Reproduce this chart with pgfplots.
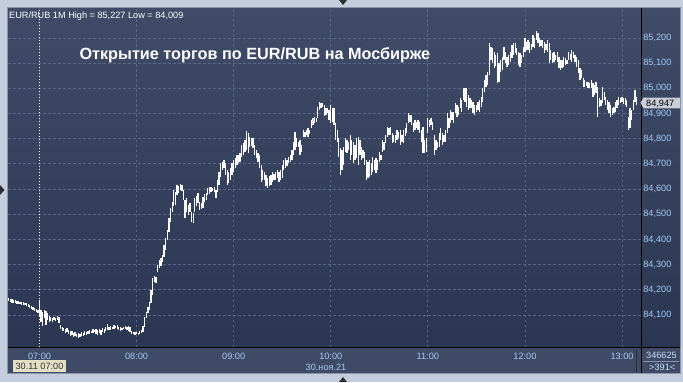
\documentclass[border=0pt]{standalone}
\usepackage{fontspec}
\setmainfont{Liberation Sans}
\usepackage{pgfplots}
\usepackage{pgfplotstable}
\pgfplotsset{compat=1.18}
\usetikzlibrary{backgrounds,calc}
\definecolor{framecol}{RGB}{196,205,219}
\definecolor{bordercol}{RGB}{140,150,168}
\definecolor{bgtop}{RGB}{63,75,103}
\definecolor{bgbot}{RGB}{43,54,83}
\definecolor{bandcol}{RGB}{62,74,102}
\definecolor{gridcol}{RGB}{88,103,135}
\definecolor{labcol}{RGB}{165,203,245}
\definecolor{beige}{RGB}{226,223,197}
\definecolor{pricebox}{RGB}{200,205,214}
\definecolor{tri}{RGB}{45,45,50}
\pgfplotstableread{
t lo hi
-19 84.156 84.168
-18 84.152 84.164
-17 84.148 84.164
-16 84.148 84.160
-15 84.148 84.160
-14 84.144 84.156
-13 84.144 84.156
-12 84.144 84.152
-11 84.140 84.152
-10 84.140 84.152
-9 84.140 84.148
-8 84.136 84.148
-7 84.132 84.144
-6 84.128 84.140
-5 84.124 84.136
-4 84.120 84.132
-3 84.116 84.128
-2 84.112 84.124
-1 84.108 84.120
0 84.096 84.160
1 84.072 84.120
2 84.056 84.112
3 84.088 84.120
4 84.060 84.116
5 84.080 84.108
6 84.072 84.096
7 84.076 84.092
8 84.072 84.088
9 84.080 84.092
10 84.076 84.088
11 84.080 84.096
12 84.068 84.092
13 84.044 84.060
14 84.036 84.052
15 84.036 84.048
16 84.029 84.044
17 84.032 84.048
18 84.025 84.040
19 84.017 84.036
20 84.021 84.036
21 84.013 84.029
22 84.017 84.032
23 84.013 84.025
24 84.009 84.029
25 84.013 84.025
26 84.017 84.032
27 84.017 84.029
28 84.021 84.036
29 84.021 84.032
30 84.025 84.036
31 84.025 84.040
32 84.029 84.036
33 84.029 84.044
34 84.032 84.040
35 84.025 84.044
36 84.021 84.040
37 84.029 84.044
38 84.021 84.040
39 84.032 84.048
40 84.029 84.044
41 84.036 84.052
42 84.040 84.064
43 84.040 84.052
44 84.040 84.056
45 84.044 84.052
46 84.044 84.060
47 84.048 84.056
48 84.044 84.060
49 84.040 84.052
50 84.036 84.052
51 84.040 84.048
52 84.044 84.052
53 84.044 84.056
54 84.040 84.052
55 84.036 84.056
56 84.032 84.052
57 84.025 84.036
58 84.025 84.032
59 84.021 84.032
60 84.025 84.032
61 84.021 84.029
62 84.025 84.036
63 84.029 84.040
64 84.032 84.056
65 84.052 84.092
66 84.088 84.112
67 84.108 84.132
68 84.120 84.152
69 84.148 84.199
70 84.179 84.247
71 84.231 84.255
72 84.227 84.251
73 84.271 84.299
74 84.287 84.318
75 84.295 84.326
76 84.310 84.338
77 84.330 84.378
78 84.358 84.406
79 84.398 84.438
80 84.430 84.485
81 84.469 84.525
82 84.509 84.549
83 84.533 84.596
84 84.537 84.588
85 84.577 84.616
86 84.585 84.612
87 84.596 84.620
88 84.592 84.616
89 84.557 84.596
90 84.485 84.557
91 84.509 84.565
92 84.497 84.537
93 84.509 84.545
94 84.469 84.509
95 84.465 84.505
96 84.509 84.565
97 84.533 84.573
98 84.545 84.585
99 84.517 84.549
100 84.521 84.545
101 84.525 84.569
102 84.549 84.581
103 84.557 84.585
104 84.577 84.604
105 84.581 84.608
106 84.588 84.608
107 84.592 84.604
108 84.588 84.608
109 84.565 84.596
110 84.588 84.636
111 84.616 84.668
112 84.648 84.704
113 84.676 84.708
114 84.684 84.716
115 84.656 84.704
116 84.616 84.676
117 84.624 84.668
118 84.636 84.684
119 84.656 84.704
120 84.668 84.716
121 84.684 84.723
122 84.696 84.735
123 84.704 84.735
124 84.708 84.743
125 84.727 84.775
126 84.735 84.783
127 84.747 84.795
128 84.755 84.831
129 84.743 84.823
130 84.767 84.807
131 84.771 84.803
132 84.763 84.803
133 84.735 84.775
134 84.723 84.755
135 84.708 84.743
136 84.684 84.735
137 84.628 84.696
138 84.636 84.676
139 84.636 84.668
140 84.612 84.656
141 84.604 84.644
142 84.612 84.652
143 84.616 84.656
144 84.628 84.668
145 84.636 84.660
146 84.636 84.668
147 84.644 84.676
148 84.628 84.668
149 84.636 84.676
150 84.644 84.696
151 84.676 84.716
152 84.684 84.723
153 84.692 84.716
154 84.704 84.727
155 84.708 84.735
156 84.716 84.755
157 84.735 84.787
158 84.755 84.827
159 84.767 84.803
160 84.767 84.787
161 84.735 84.795
162 84.747 84.775
163 84.807 84.835
164 84.807 84.827
165 84.815 84.835
166 84.807 84.843
167 84.819 84.835
168 84.843 84.874
169 84.855 84.882
170 84.862 84.886
171 84.866 84.882
172 84.882 84.926
173 84.914 84.946
174 84.922 84.942
175 84.926 84.942
176 84.890 84.934
177 84.894 84.922
178 84.902 84.922
179 84.874 84.914
180 84.862 84.934
181 84.866 84.922
182 84.855 84.922
183 84.795 84.862
184 84.787 84.835
185 84.727 84.803
186 84.656 84.763
187 84.676 84.755
188 84.696 84.767
189 84.747 84.803
190 84.743 84.795
191 84.755 84.787
192 84.716 84.815
193 84.735 84.795
194 84.704 84.787
195 84.716 84.775
196 84.723 84.803
197 84.696 84.807
198 84.735 84.795
199 84.716 84.767
200 84.723 84.755
201 84.696 84.747
202 84.636 84.716
203 84.644 84.708
204 84.648 84.716
205 84.656 84.704
206 84.668 84.727
207 84.676 84.716
208 84.664 84.723
209 84.676 84.716
210 84.708 84.747
211 84.716 84.735
212 84.747 84.795
213 84.755 84.787
214 84.783 84.815
215 84.807 84.847
216 84.815 84.843
217 84.815 84.847
218 84.783 84.823
219 84.787 84.815
220 84.783 84.815
221 84.795 84.835
222 84.803 84.827
223 84.775 84.835
224 84.787 84.815
225 84.783 84.835
226 84.811 84.843
227 84.823 84.862
228 84.862 84.902
229 84.866 84.894
230 84.855 84.894
231 84.827 84.862
232 84.835 84.874
233 84.843 84.866
234 84.835 84.874
235 84.823 84.866
236 84.787 84.835
237 84.743 84.847
238 84.743 84.795
239 84.747 84.803
240 84.823 84.882
241 84.847 84.874
242 84.855 84.882
243 84.835 84.866
244 84.735 84.815
245 84.755 84.795
246 84.763 84.787
247 84.767 84.823
248 84.795 84.843
249 84.775 84.823
250 84.787 84.815
251 84.787 84.835
252 84.823 84.902
253 84.843 84.882
254 84.862 84.914
255 84.874 84.906
256 84.862 84.906
257 84.902 84.942
258 84.886 84.934
259 84.894 84.926
260 84.922 84.962
261 84.906 84.954
262 84.954 85.001
263 84.946 85.001
264 84.926 85.001
265 84.914 84.974
266 84.922 84.962
267 84.922 84.954
268 84.902 84.946
269 84.894 84.934
270 84.906 84.934
271 84.914 84.946
272 84.906 84.954
273 84.926 84.966
274 84.946 85.001
275 84.986 85.033
276 85.005 85.053
277 85.013 85.065
278 85.053 85.180
279 85.113 85.164
280 85.101 85.160
281 85.081 85.144
282 85.089 85.133
283 85.021 85.141
284 85.025 85.101
285 85.065 85.113
286 85.073 85.125
287 85.113 85.164
288 85.101 85.144
289 85.085 85.125
290 85.093 85.133
291 85.105 85.144
292 85.121 85.172
293 85.133 85.180
294 85.141 85.180
295 85.133 85.160
296 85.093 85.144
297 85.085 85.141
298 85.101 85.133
299 85.125 85.164
300 85.144 85.200
301 85.152 85.184
302 85.152 85.192
303 85.141 85.184
304 85.152 85.176
305 85.164 85.212
306 85.160 85.200
307 85.192 85.228
308 85.180 85.220
309 85.164 85.200
310 85.168 85.192
311 85.160 85.192
312 85.141 85.184
313 85.152 85.176
314 85.144 85.192
315 85.101 85.180
316 85.113 85.152
317 85.101 85.141
318 85.105 85.144
319 85.113 85.133
320 85.105 85.144
321 85.081 85.125
322 85.073 85.113
323 85.081 85.113
324 85.085 85.125
325 85.093 85.121
326 85.097 85.113
327 85.113 85.144
328 85.113 85.137
329 85.105 85.152
330 85.121 85.144
331 85.105 85.133
332 85.085 85.125
333 85.061 85.113
334 85.033 85.081
335 85.041 85.073
336 85.005 85.041
337 85.005 85.033
338 85.009 85.025
339 85.001 85.025
340 85.001 85.021
341 85.001 85.033
342 84.966 85.021
343 84.974 85.013
344 84.982 85.025
345 84.886 85.005
346 84.926 84.962
347 84.930 84.954
348 84.942 85.005
349 84.954 84.986
350 84.934 84.966
351 84.914 84.954
352 84.902 84.946
353 84.886 84.934
354 84.894 84.922
355 84.902 84.926
356 84.906 84.946
357 84.922 84.954
358 84.934 84.966
359 84.942 84.962
360 84.946 84.966
361 84.938 84.962
362 84.934 84.962
363 84.926 84.954
364 84.835 84.886
365 84.843 84.922
366 84.874 84.914
367 84.914 84.954
368 84.946 84.994
369 84.934 84.966
}\bars
\begin{document}
\begin{tikzpicture}[x=1bp,y=1bp]
\begin{axis}[
  name=ax,
  scale only axis, width=633bp, height=339bp,
  xmin=-19.47, xmax=371.76, ymin=83.973, ymax=85.319,
  axis line style={draw=none}, major tick length=0pt,
  xtick={60,120,180,240,300,360},
  xticklabels={08:00,09:00,10:00,11:00,12:00,13:00},
  extra x ticks={0}, extra x tick labels={07:00},
  extra x tick style={grid=none},
  ytick={84.1,84.2,84.3,84.4,84.5,84.6,84.7,84.8,84.9,85.0,85.1,85.2},
  grid=major,
  major grid style={gridcol, dash pattern=on 2.5bp off 2.5bp, line width=0.8bp},
  yticklabel pos=right,
  tick label style={font=\fontsize{9.2}{10}\selectfont, text=labcol},
  yticklabel style={xshift=-1.2bp,
    /pgf/number format/fixed, /pgf/number format/fixed zerofill,
    /pgf/number format/precision=3, /pgf/number format/use comma,
    /pgf/number format/1000 sep={}, /pgf/number format/assume math mode=true},
  xticklabel style={anchor=base, yshift=-12bp},
]
\addplot[white, dash pattern=on 1.3bp off 1.7bp, line width=1bp, forget plot] coordinates {(0,83.973) (0,85.319)};
\addplot[draw=none, mark=none, forget plot,
  error bars/.cd, y dir=minus, y explicit, error mark=none,
  error bar style={draw=white, line width=1.3bp, solid}]
  table[x=t, y=hi, y error minus expr=\thisrow{hi}-\thisrow{lo}] {\bars};
\end{axis}
\begin{scope}[shift={(ax.south west)}, xshift=-8bp, yshift=-35bp]
\begin{pgfonlayer}{background}
\fill[framecol] (0,0) rectangle (683,382);
\fill[bordercol] (7,8) rectangle (681,375);
\shade[top color=bgtop,bottom color=bgbot] (8,35) rectangle (680,374);
\fill[bandcol] (8,9) rectangle (680,35);
\fill[tri] (339,382) -- (347,382) -- (343,377) -- cycle;
\fill[tri] (339,0) -- (347,0) -- (343,5) -- cycle;
\fill[tri] (0,187) -- (0,197) -- (4.5,192) -- cycle;
\end{pgfonlayer}
% separators
\draw[black, line width=1bp] (8,35) -- (680,35);
\draw[black, line width=1bp] (641,9) -- (641,374);
% texts
\node[anchor=base west, inner sep=0, text=white, font=\fontsize{9.2}{10}\selectfont] at (9,363.6) {EUR/RUB 1M High = 85,227 Low = 84,009};
\node[anchor=base west, inner sep=0, text=white, font=\fontsize{16.3}{18}\selectfont\bfseries] at (79.3,322.8) {Открытие торгов по EUR/RUB на Мосбирже};
\node[anchor=base, inner sep=0, text=labcol, font=\fontsize{9.2}{10}\selectfont] at (326,12) {30.ноя.21};
\fill[beige] (13,10) rectangle (66,22);
\node[anchor=base, inner sep=0, text=black!80, font=\fontsize{9.2}{10}\selectfont] at (39.5,12.3) {30.11 07:00};
\fill[pricebox] (640.5,279.2) -- (643.5,284.5) -- (680,284.5) -- (680,273.7) -- (643.5,273.7) -- cycle;
\node[anchor=base west, inner sep=0, text=black, font=\fontsize{9.2}{10}\selectfont] at (646,275.6) {84,947};
\draw[tri, line width=0.8bp] (636.7,10) -- (636.7,33);
\draw[gridcol!70!white, line width=0.6bp] (643,21) -- (679,21);
\node[anchor=base west, inner sep=0, text=labcol!60!white, font=\fontsize{9.2}{10}\selectfont] at (646,23.2) {346625};
\node[anchor=base west, inner sep=0, text=labcol!60!white, font=\fontsize{9.2}{10}\selectfont] at (649,11.3) {>391<};
\pgfresetboundingbox
\path[use as bounding box] (0,0) rectangle (683,382);
\end{scope}
\end{tikzpicture}
\end{document}
